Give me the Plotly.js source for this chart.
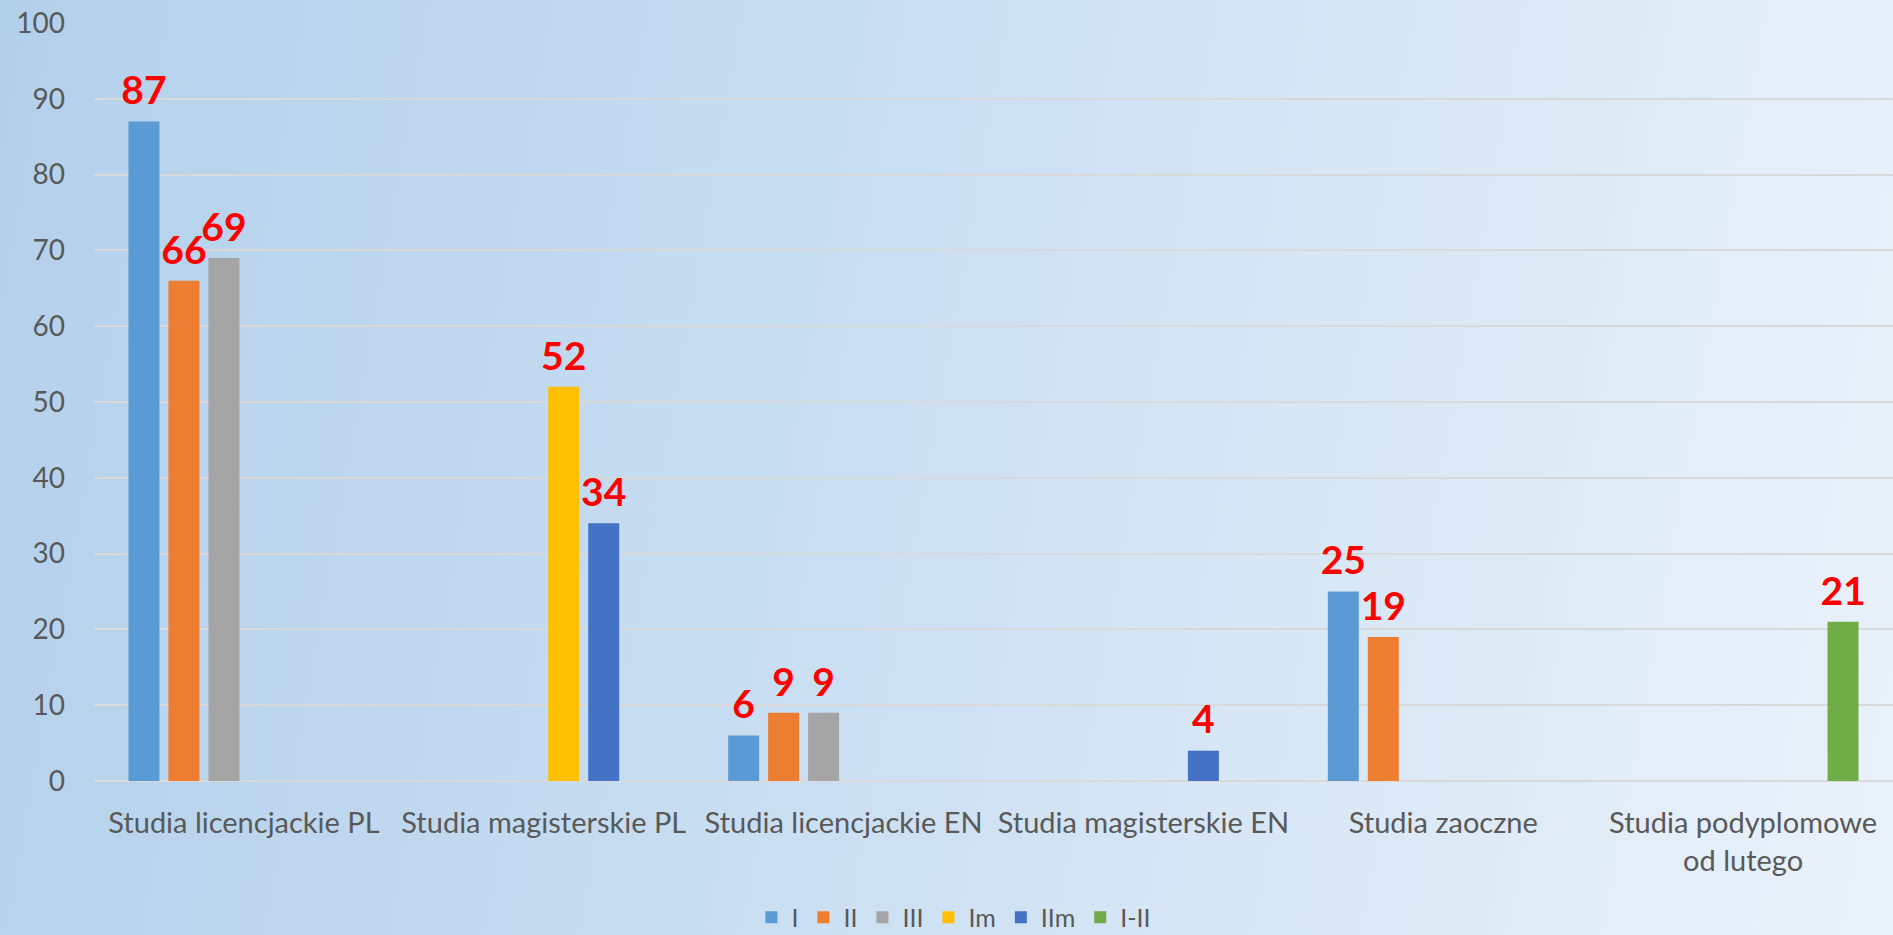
<!DOCTYPE html>
<html>
<head>
<meta charset="utf-8">
<script src="https://cdn.plot.ly/plotly-3.0.1.min.js"></script>
<style>
  html, body { margin: 0; padding: 0; width: 1893px; height: 935px; overflow: hidden; }
  body { background: linear-gradient(100deg, #b3d0eb 0%, #c4dbf0 35%, #d6e6f5 65%, #eaf2fa 100%); }
  #chart { width: 1893px; height: 935px; }
</style>
</head>
<body>
<div id="chart"></div>
<script>
const categories = [
  "Studia licencjackie PL",
  "Studia magisterskie PL",
  "Studia licencjackie EN",
  "Studia magisterskie EN",
  "Studia zaoczne",
  "Studia podyplomowe<br>od lutego"
];
const seriesNames = ["I", "II", "III", "Im", "IIm", "I-II"];
const seriesColors = ["#5b9bd5", "#ed7d31", "#a5a5a5", "#ffc000", "#4472c4", "#70ad47"];
const valuesI   = [87, null, 6, null, 25, null];
const valuesII  = [66, null, 9, null, 19, null];
const valuesIII = [69, null, 9, null, null, null];
const valuesIm  = [null, 52, null, null, null, null];
const valuesIIm = [null, 34, null, 4, null, null];
const valuesIII2 = [null, null, null, null, null, 21];
const yTicks = [0, 10, 20, 30, 40, 50, 60, 70, 80, 90, 100];

const allValues = [valuesI, valuesII, valuesIII, valuesIm, valuesIIm, valuesIII2];
const pad = "<sub>\u2009</sub>";

const traces = allValues.map((vals, i) => ({
  type: "bar",
  name: seriesNames[i],
  x: categories,
  y: vals,
  marker: { color: seriesColors[i] },
  text: vals.map(v => v === null ? "" : pad + String(v) + pad),
  textposition: "outside",
  constraintext: "none",
  cliponaxis: false,
  textfont: { family: "Lato", size: 39, color: "#ff0000", weight: "bold" },
  hoverinfo: "none"
}));

const layout = {
  width: 1893,
  height: 935,
  paper_bgcolor: "rgba(0,0,0,0)",
  plot_bgcolor: "rgba(0,0,0,0)",
  margin: { l: 94, r: 0, t: 23, b: 154, autoexpand: false },
  barmode: "group",
  bargap: 0.2,
  bargroupgap: 0.225,
  showlegend: true,
  legend: {
    orientation: "h",
    x: 0.478,
    xanchor: "center",
    y: -0.18,
    yanchor: "middle",
    font: { family: "Lato", size: 25, color: "#595959" },
    bgcolor: "rgba(0,0,0,0)"
  },
  xaxis: {
    type: "category",
    automargin: false,
    tickangle: 0,
    showgrid: false,
    showline: false,
    ticks: "",
    tickfont: { family: "Lato", size: 29, color: "#595959" },
    ticklabelstandoff: 22
  },
  yaxis: {
    automargin: false,
    range: [0, 100],
    tickvals: yTicks,
    showgrid: true,
    gridcolor: "#d9d9d9",
    gridwidth: 2,
    zeroline: true,
    zerolinecolor: "#d9d9d9",
    zerolinewidth: 2,
    showline: false,
    ticks: "",
    tickfont: { family: "Lato", size: 28, color: "#595959" },
    ticklabelstandoff: 28
  },
  hovermode: false
};

Plotly.newPlot("chart", traces, layout, { displayModeBar: false, staticPlot: true });
</script>
</body>
</html>
